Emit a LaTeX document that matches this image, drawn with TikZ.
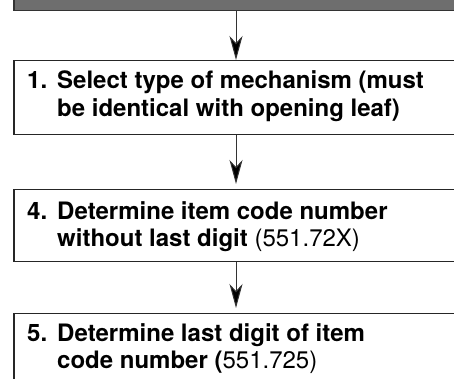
\documentclass[tikz,border=0pt]{standalone}
\usepackage{fontspec}
\setmainfont{TeX Gyre Heros}
\usetikzlibrary{arrows.meta}
\tikzset{
  stepbox/.style={draw=black!85, line width=1.3pt, fill=white, minimum width=444pt, inner sep=0pt, anchor=north},
  topbox/.style={draw=black!80, line width=1.3pt, fill=black!57, minimum width=444pt, inner sep=0pt, anchor=north},
  steptext/.style={inner sep=0pt, anchor=base west, font=\fontsize{24}{27.5}\selectfont},
  arr/.style={draw=black!80, line width=1pt, -{Stealth[length=24pt, width=13pt, inset=7pt, fill=black]}}
}
\begin{document}
\begin{tikzpicture}[x=1pt, y=-1pt]
\clip (0,0) rectangle (454,379);
\useasboundingbox (0,0) rectangle (454,379);
\node[topbox, minimum height=30pt] (g) at (236,-20) {};
\node[stepbox, minimum height=74pt] (b1) at (236,60) {};
\node[stepbox, minimum height=72pt] (b2) at (236,189) {};
\node[stepbox, minimum height=90pt] (b3) at (236,313) {};
\node[steptext] (t1) at (27,89) {\begin{tabular}[t]{@{}p{30pt}@{}l@{}}\bfseries 1. & \bfseries Select type of mechanism (must\\ & \bfseries be identical with opening leaf)\end{tabular}};
\node[steptext] (t2) at (27,219) {\begin{tabular}[t]{@{}p{30pt}@{}l@{}}\bfseries 4. & \bfseries Determine item code number\\ & \textbf{without last digit} (551.72X)\end{tabular}};
\node[steptext] (t3) at (27,341) {\begin{tabular}[t]{@{}p{30pt}@{}l@{}}\bfseries 5. & \bfseries Determine last digit of item\\ & \textbf{code number (}551.725)\end{tabular}};
\draw[arr] (g.south) -- (b1.north);
\draw[arr, shorten >=5pt] (b1.south) -- (b2.north);
\draw[arr, shorten >=5pt] (b2.south) -- (b3.north);
\end{tikzpicture}
\end{document}
